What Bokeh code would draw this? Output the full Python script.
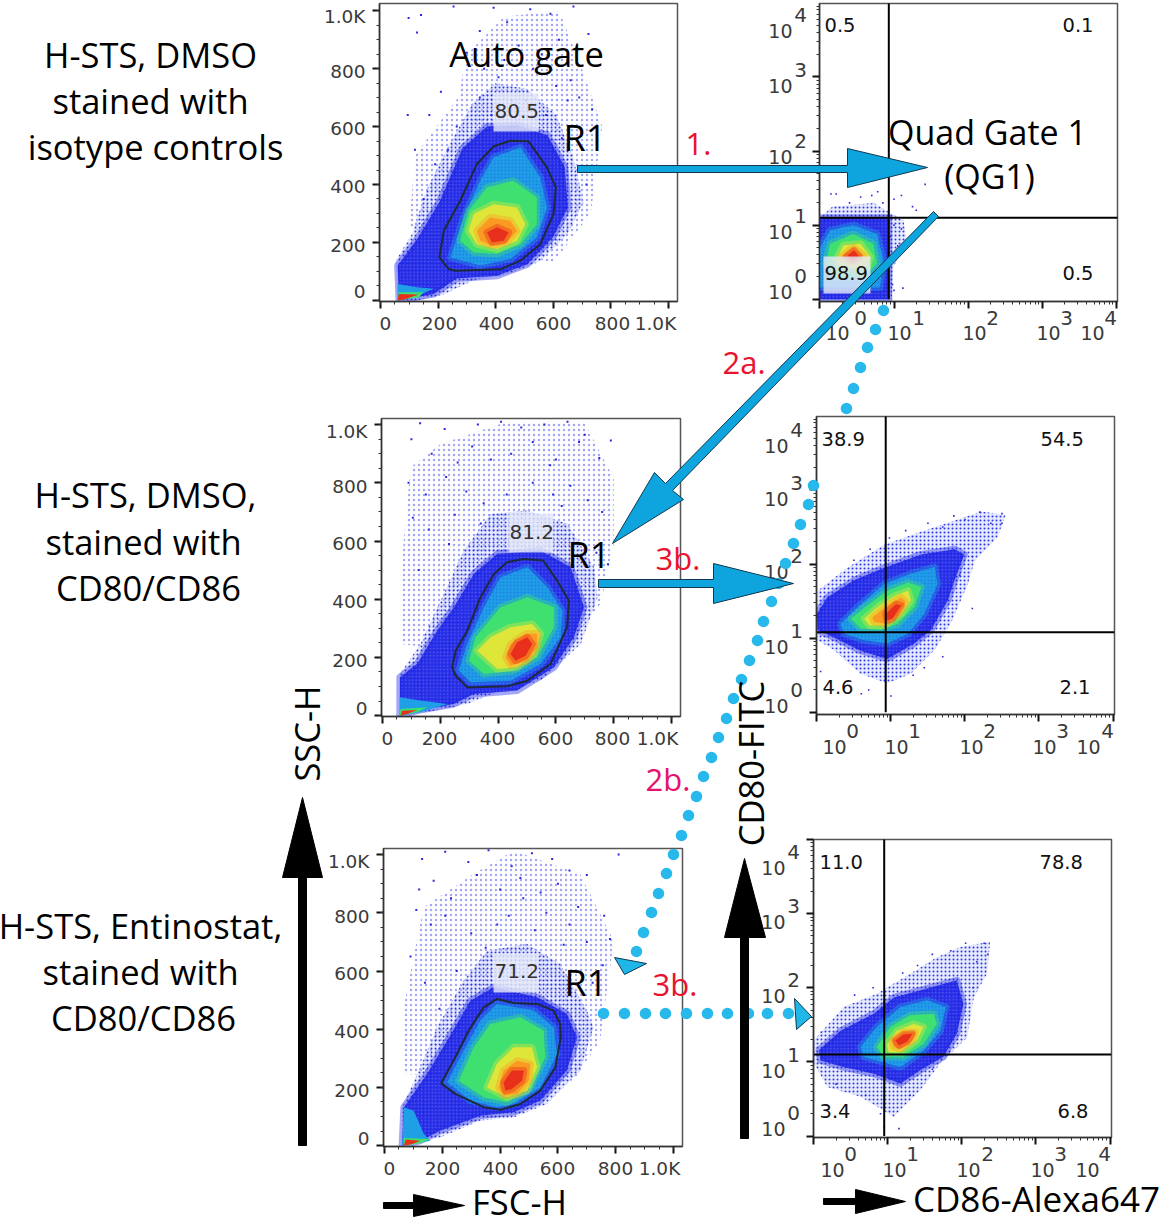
from math import pi
from bokeh.core.properties import value
from bokeh.embed import file_html
from bokeh.models import Column, FixedTicker, Range1d
from bokeh.plotting import figure
from bokeh.resources import INLINE

# ---------- level colours of the density plots (sparse -> dense) ----------
LEVEL_COLORS = ["#1c24e6", "#1f9fe6", "#3fe070", "#dfe63a", "#fb9a22", "#e8301c"]
LINEAR_TICKS = [0, 200, 400, 600, 800, 1000]
LINEAR_LABELS = ["0", "200", "400", "600", "800", "1.0K"]
DECADES = [0, 1, 2, 3, 4]

# ---------- FSC-H / SSC-H panels: value outlines ----------
A_gate = [(205,148),(237,108),(260,102),(416,107),(486,137),(555,194),(601,298),(609,390),(578,459),(514,549),(451,551),(393,532),(335,471),(277,344),(220,240)]
A_far = [(100,250),(120,500),(270,700),(300,850),(430,980),(620,1000),(700,800),(770,600),(730,300),(600,130)]
A_halo = [(60,0),(55,140),(110,230),(160,380),(240,540),(320,680),(400,750),(510,730),(610,640),(670,490),(705,340),(650,230),(555,135),(440,90),(325,70),(220,20),(130,0)]
A_levels = [
 [(65,0),(60,120),(130,215),(205,340),(285,525),(370,600),(475,605),(580,570),(640,460),(650,320),(600,220),(510,125),(405,85),(265,75),(185,22)],
 [(243,148),(289,287),(347,414),(393,494),(486,528),(555,424),(578,320),(543,217),(451,143),(347,120)],
 [(277,206),(306,309),(370,390),(462,413),(543,355),(543,263),(486,194),(405,160),(324,165)],
 [(306,240),(324,298),(393,332),(474,321),(503,263),(474,206),(405,177),(335,194)],
 [(335,240),(381,286),(451,275),(474,240),(439,200),(387,189),(347,206)],
 [(370,235),(405,252),(445,235),(428,206),(387,200)],
]
A_low = [[(60,0),(60,56),(127,45),(185,40),(115,10)],[(60,0),(64,28),(150,28),(133,10)],[(60,0),(64,22),(133,20),(80,2)]]
A_spx = [254,393,670,98,141,127,722,440,590,520,300,360,480,560,620,660,690,210,170,95,120,345,410,530,610,650,735,700,455,385,265,235,190,150,575,505,345,430,630,715]
A_spy = [1015,1010,1015,975,985,925,920,960,990,1005,855,800,880,850,900,760,700,720,640,640,520,930,770,800,740,690,660,520,690,640,600,520,470,350,640,690,700,830,560,400]

B_gate = [(241,166),(253,137),(293,97),(431,101),(501,120),(581,178),(639,304),(645,395),(604,464),(556,533),(489,538),(431,527),(385,487),(339,407),(293,292),(253,223)]
B_far = [(62,246),(62,475),(97,853),(201,933),(431,1010),(697,1010),(800,816),(800,590),(755,385),(600,180)]
B_halo = [(60,0),(60,143),(131,246),(201,395),(281,567),(374,693),(501,705),(640,659),(732,510),(744,407),(686,246),(547,120),(408,86),(293,40),(178,17)]
B_levels = [
 [(60,0),(60,132),(120,178),(189,292),(247,372),(316,487),(397,556),(547,567),(651,510),(697,372),(662,269),(593,166),(466,86),(316,74),(247,40),(120,17)],
 [(264,155),(293,246),(351,372),(408,475),(501,510),(570,441),(622,361),(616,269),(547,178),(443,120),(305,115)],
 [(299,189),(322,269),(408,372),(501,407),(593,372),(593,304),(535,200),(454,155),(351,143)],
 [(328,223),(374,269),(443,304),(518,315),(547,281),(524,212),(466,166),(397,160)],
 [(426,200),(443,246),(495,281),(535,281),(535,235),(501,189),(443,172)],
 [(443,212),(466,252),(501,269),(518,246),(495,206),(460,189)],
]
B_low = [[(60,0),(60,63),(131,52),(224,40),(131,12)],[(60,0),(62,23),(155,29),(120,12)],[(62,0),(68,17),(120,19),(85,6)]]
B_spx = [130,215,330,410,480,560,640,700,790,100,170,260,310,375,445,520,600,680,750,90,150,220,290,350,520,590,650,710,760,105,160,230,620,780,740,580,430,340,250,125]
B_spy = [1005,985,1000,1010,990,1000,1010,965,945,950,900,870,925,880,900,940,880,940,885,800,760,820,770,730,800,760,790,740,700,680,640,590,720,520,560,860,760,660,690,500]

C_gate = [(196,214),(245,178),(343,132),(401,123),(470,143),(539,189),(591,269),(610,372),(608,418),(585,464),(528,487),(447,490),(389,504),(343,475),(291,395),(251,315)]
C_far = [(66,246),(66,475),(135,819),(309,934),(447,1013),(677,933),(793,704),(746,361),(654,223)]
C_halo = [(61,0),(61,132),(124,269),(182,407),(274,567),(355,670),(493,693),(608,624),(700,464),(723,407),(677,258),(562,143),(447,97),(332,86),(194,29)]
C_levels = [
 [(61,0),(67,132),(147,246),(217,361),(297,498),(378,544),(528,510),(631,452),(666,372),(631,258),(539,155),(447,115),(332,103),(194,52),(124,17)],
 [(217,218),(274,326),(332,430),(389,487),(516,464),(585,407),(597,315),(539,200),(447,143),(389,132),(297,155)],
 [(257,223),(309,338),(366,418),(470,441),(551,395),(556,304),(505,200),(424,149),(343,166)],
 [(355,200),(389,281),(447,338),(510,338),(528,269),(493,189),(424,166)],
 [(395,200),(412,258),(459,292),(505,281),(499,223),(459,178),(412,172)],
 [(412,218),(441,258),(482,258),(476,223),(441,195),(418,189)],
]
C_low = [[(61,0),(67,132),(101,120),(136,40),(159,17)],[(67,0),(67,26),(159,23),(124,8)],[(67,0),(73,21),(124,17),(96,6)]]
C_spx = [130,210,290,360,440,510,580,640,700,810,120,170,230,320,400,470,540,600,670,760,110,160,210,300,390,560,640,700,755,780,90,140,190,250,350,480,620,720,430,520]
C_spy = [985,1010,975,1015,960,1005,985,945,930,1000,880,910,850,930,880,920,870,900,820,790,810,760,790,730,760,800,760,700,620,710,650,560,470,600,680,850,690,560,790,740]

# ---------- CD86 / CD80 panels: outlines in decades (log10 of the value) ----------
D_halo = [(0,0),(0,1.1),(.17,1.25),(.73,1.3),(1.13,1.06),(1.17,.79),(.99,.43),(.97,0)]
D_levels = [
 [(0,0),(0,1.1),(.93,1.1),(.93,0)],
 [(0,.16),(0,.70),(.14,.93),(.45,1.0),(.77,.88),(.86,.52),(.81,.16)],
 [(.08,.48),(.14,.75),(.45,.88),(.72,.75),(.77,.48),(.6,.3),(.2,.3)],
 [(.21,.52),(.32,.73),(.55,.75),(.68,.57),(.64,.44),(.3,.42)],
 [(.28,.57),(.45,.70),(.59,.59),(.45,.5)],
 [(.36,.58),(.46,.66),(.53,.58),(.44,.53)],
]
D_spx = [.15,.22,.4,.55,.7,.78,.85,1.0,1.1,1.25,1.42,1.0,.95,1.05,1.1,1.2,1.3,.98,1.0,1.12]
D_spy = [1.42,1.42,1.3,1.38,1.4,1.45,1.3,1.35,1.4,1.25,1.55,1.0,.85,.72,.95,1.1,1.2,.2,.12,.15]

E_halo = [(0,1.37),(.01,1.64),(.41,1.95),(.91,2.26),(1.41,2.44),(1.81,2.57),(2.22,2.71),(2.55,2.66),(2.44,2.36),(2.13,2.04),(2.04,1.73),(1.81,1.2),(1.59,.84),(1.27,.52),(.95,.39),(.59,.52),(.23,.84),(.01,.97)]
E_levels = [
 [(0,1.33),(.14,1.55),(.5,1.78),(.91,1.95),(1.41,2.13),(1.86,2.2),(1.99,2.13),(1.86,1.78),(1.77,1.51),(1.54,1.11),(1.32,.93),(.95,.72),(.59,.83),(.23,1.01),(.01,1.11)],
 [(.32,1.19),(.55,1.42),(.91,1.73),(1.27,1.87),(1.59,1.96),(1.63,1.73),(1.45,1.33),(1.23,1.06),(.95,.93),(.64,.97),(.37,1.06)],
 [(.46,1.26),(.68,1.44),(.95,1.64),(1.23,1.75),(1.41,1.69),(1.32,1.42),(1.09,1.19),(.86,1.11),(.59,1.13)],
 [(.64,1.26),(.82,1.42),(1.05,1.57),(1.23,1.64),(1.27,1.51),(1.14,1.33),(.91,1.17),(.71,1.17)],
 [(.75,1.28),(.95,1.44),(1.14,1.55),(1.2,1.49),(1.09,1.31),(.93,1.19),(.77,1.22)],
 [(.93,1.33),(1.07,1.46),(1.14,1.44),(1.02,1.26),(.95,1.24)],
]
E_spx = [.05,.27,.5,.72,.98,1.2,1.5,1.7,1.85,2.0,2.2,2.35,2.5,2.5,2.1,1.93,2.1,1.7,1.45,1.3,.7,.6,1.0]
E_spy = [.55,1.2,2.05,2.2,2.35,2.45,2.55,2.5,2.65,2.6,2.7,2.55,2.68,2.55,2.1,1.85,1.4,.75,.6,.5,.3,.25,.22]

F_halo = [(0,1.29),(.4,1.74),(.85,1.92),(1.3,2.19),(1.66,2.41),(1.98,2.55),(2.38,2.62),(2.34,2.19),(2.16,1.87),(2.07,1.33),(1.71,.98),(1.44,.62),(1.08,.26),(.63,.53),(.18,.66),(0,.98)]
F_levels = [
 [(.07,1.16),(.36,1.42),(.81,1.65),(1.08,1.87),(1.53,1.99),(1.93,2.1),(2.02,1.78),(1.93,1.38),(1.75,1.07),(1.44,.89),(1.17,.71),(.81,.84),(.4,.93),(.09,1.02)],
 [(.63,1.2),(.85,1.47),(1.17,1.74),(1.53,1.83),(1.78,1.74),(1.71,1.42),(1.48,1.15),(1.17,.93),(.85,1.02),(.67,1.07)],
 [(.85,1.2),(1.03,1.47),(1.3,1.63),(1.62,1.65),(1.66,1.51),(1.48,1.24),(1.21,1.07),(.94,1.07)],
 [(.99,1.24),(1.12,1.42),(1.35,1.51),(1.48,1.47),(1.39,1.29),(1.17,1.13),(1.01,1.13)],
 [(1.06,1.29),(1.21,1.4),(1.37,1.4),(1.33,1.29),(1.17,1.18),(1.08,1.2)],
 [(1.1,1.29),(1.21,1.37),(1.33,1.38),(1.26,1.27),(1.15,1.22)],
]
F_spx = [.1,.3,.55,.8,1.2,1.4,1.6,1.85,2.05,2.3,2.35,2.2,2.15,1.9,1.6,1.3,.95,.9,.7,1.15]
F_spy = [1.4,.7,1.9,2.0,2.2,2.3,2.45,2.5,2.6,2.6,2.45,2.35,2.0,1.6,.9,.55,.12,.3,.55,.1]


def dec(points):
    return [10 ** a for a, _ in points], [10 ** b for _, b in points]


def lin(points):
    return [a for a, _ in points], [b for _, b in points]


# ---------- panels with their own scales and axes ----------
panels = []
BL, BB, BT, BR = 30, 24, 6, 6


def make_panel(box, xr, yr, log):
    left, top, right, bottom = box
    kw = dict(x_axis_type="log", y_axis_type="log") if log else {}
    p = figure(width=right - left + BL + BR, height=bottom - top + BT + BB,
               x_range=Range1d(*xr), y_range=Range1d(*yr),
               min_border_left=BL, min_border_right=BR, min_border_top=BT, min_border_bottom=BB,
               toolbar_location=None, output_backend="svg",
               background_fill_color="white", border_fill_color=None,
               outline_line_color="#555555", outline_line_width=1.5,
               styles={"position": "absolute", "left": f"{left - BL}px", "top": f"{top - BT}px"}, **kw)
    p.grid.visible = False
    if log:
        major = [10 ** d for d in DECADES]
        minor = [m * 10 ** d for d in DECADES[:-1] for m in (2, 3, 4, 5, 6, 7, 8, 9)]
    else:
        major = LINEAR_TICKS
        minor = list(range(0, 1001, 50))
    for ax in (p.xaxis[0], p.yaxis[0]):
        ax.ticker = FixedTicker(ticks=major, minor_ticks=minor)
        ax.major_label_overrides = {t: "" for t in major}
        ax.major_tick_out = 7
        ax.major_tick_in = 0
        ax.minor_tick_out = 3
        ax.minor_tick_in = 0
        ax.major_tick_line_width = 2
        ax.major_tick_line_color = "#111111"
        ax.minor_tick_line_color = "#333333"
        ax.axis_line_color = "#333333"
        ax.axis_line_width = 1.5
    panels.append(p)
    return p


def draw_cloud(p, conv, far, halo, levels, low, spx, spy, size):
    if far:
        fx, fy = conv(far)
        p.patch(fx, fy, fill_color=None, line_color=None, hatch_pattern="dot",
                hatch_color="#1c24e6", hatch_scale=5, hatch_weight=1, hatch_alpha=0.4)
    hx, hy = conv(halo)
    p.patch(hx, hy, fill_color="#aab6fb", fill_alpha=0.3, line_color=None)
    p.patch(hx, hy, fill_color=None, line_color=None, hatch_pattern="dot",
            hatch_color="#1c24e6", hatch_scale=4, hatch_weight=1, hatch_alpha=0.9)
    for i, (pts, col) in enumerate(zip(levels, LEVEL_COLORS)):
        x, y = conv(pts)
        p.patch(x, y, fill_color=col, fill_alpha=0.95 if i == 0 else 1.0,
                line_color=col, line_alpha=0.4, line_width=7, line_join="round")
        if i == 0:
            p.patch(x, y, fill_color=None, line_color=None, hatch_pattern="dot",
                    hatch_color="white", hatch_scale=3.5, hatch_weight=1, hatch_alpha=0.22)
        if i == 1:
            p.patch(x, y, fill_color=None, line_color=None, hatch_pattern="dot",
                    hatch_color="#1c24e6", hatch_scale=3.5, hatch_weight=1, hatch_alpha=0.35)
    for pts, col in zip(low, ["#1f9fe6", "#3fe070", "#e8301c"]):
        x, y = conv(pts)
        p.patch(x, y, fill_color=col, line_color=None)
    p.scatter(spx, spy, size=size, marker="square", color="#2a2ae0", line_color=None)


pa = make_panel((379, 3, 677, 301), (-3, 1031), (-4, 1025), False)
pb = make_panel((381, 418, 680, 716), (-3.5, 1031), (-3, 1021), False)
pc = make_panel((383, 848, 682, 1146), (-3.5, 1031), (-3, 1021), False)
for p, gate, far, halo, lv, low, sx, sy in ((pa, A_gate, A_far, A_halo, A_levels, A_low, A_spx, A_spy),
                                            (pb, B_gate, B_far, B_halo, B_levels, B_low, B_spx, B_spy),
                                            (pc, C_gate, C_far, C_halo, C_levels, C_low, C_spx, C_spy)):
    draw_cloud(p, lin, far, halo, lv, low, sx, sy, 2)
    gx, gy = lin(gate)
    p.patch(gx, gy, fill_color=None, line_color="#1c2b3a", line_width=2)

pd = make_panel((819, 3, 1117, 301), (10 ** -0.005, 10 ** 4.015), (10 ** -0.03, 10 ** 3.99), True)
pe = make_panel((816, 416, 1114, 714), (10 ** -0.005, 10 ** 4.02), (10 ** -0.03, 10 ** 3.99), True)
pf = make_panel((813, 839, 1111, 1137), (10 ** -0.005, 10 ** 4.02), (10 ** -0.02, 10 ** 4.0), True)
QUAD = {"d": (10 ** 0.93, 10 ** 1.1), "e": (10 ** 0.93, 10 ** 1.08), "f": (10 ** 0.95, 10 ** 1.1)}
for p, key, halo, lv, sx, sy in ((pd, "d", D_halo, D_levels, D_spx, D_spy),
                                 (pe, "e", E_halo, E_levels, E_spx, E_spy),
                                 (pf, "f", F_halo, F_levels, F_spx, F_spy)):
    draw_cloud(p, dec, None, halo, lv, [], [10 ** v for v in sx], [10 ** v for v in sy], 1.6)
    qx, qy = QUAD[key]
    p.segment([qx, 1], [1, qy], [qx, 10 ** 4.02], [10 ** 4.02, qy], line_color="black", line_width=2)

# ---------- page-wide annotation layer ----------
ov = figure(width=1160, height=1219, x_range=Range1d(0, 1160), y_range=Range1d(1219, 0),
            min_border=0, toolbar_location=None, output_backend="svg", x_axis_type=None, y_axis_type=None,
            background_fill_color=None, border_fill_color=None, outline_line_color=None)
ov.grid.visible = False

HEAD = "Open Sans"
TICK = "DejaVu Sans"
TICK_COLOR = "#3a3a3a"


def txt(x, y, s, size, color="black", font=HEAD, align="left", angle=0.0, line_height=1.2):
    # the text glyph centres on its anchor: bring the baseline back to the reading
    if angle:
        x = x - 0.36 * size
    else:
        y = y - 0.36 * size
    ov.text([x], [y], text=[s], text_font=value(font), text_font_size=f"{size}px", text_color=color,
            text_align=align, text_baseline="alphabetic", angle=angle, text_line_height=line_height)


def poly(pts, fill, line="#12394e", w=1.0):
    ov.patch([a for a, _ in pts], [b for _, b in pts], fill_color=fill, line_color=line, line_width=w)


# pale backgrounds behind the gate percentages
for x0, y0, x1, y1 in ((493, 93, 538, 131), (508, 513, 553, 552), (493, 953, 538, 992), (823, 256, 870, 293)):
    ov.quad(left=[x0], right=[x1], top=[y0], bottom=[y1], fill_color="#e4e8f8", fill_alpha=0.82, line_color=None)

# tick labels
for labels_x, base, labels_y, right in (
    ((385, 439, 496, 553, 612, 655), 330, (298, 252, 193, 135, 78, 23), 365),
    ((387, 439, 497, 555, 612, 657), 745, (715, 667, 608, 550, 493, 438), 367),
    ((389, 442, 500, 557, 615, 659), 1175, (1145, 1097, 1038, 980, 923, 868), 369),
):
    for s, cx, by in zip(LINEAR_LABELS, labels_x, labels_y):
        txt(cx, base, s, 18.5, TICK_COLOR, TICK, "center")
        txt(right, by, s, 18.5, TICK_COLOR, TICK, "right")

for xc, xe, xb, xeb, yb, yr_, ye in (
    ((837, 899, 974, 1048, 1092), (860, 918, 992, 1066, 1110), 339, 325, (298, 238, 163, 92, 37), 792, 800),
    ((834, 896, 971, 1044, 1088), (852, 914, 989, 1062, 1107), 753, 738, (712, 653, 578, 505, 452), 788, 796),
    ((832, 894, 968, 1042, 1087), (850, 912, 987, 1060, 1104), 1176, 1161, (1135, 1077, 1002, 928, 874), 785, 793),
):
    for d, cx, ex, by in zip(DECADES, xc, xe, yb):
        txt(cx, xb, "10", 19, TICK_COLOR, TICK, "center")
        txt(ex, xeb, str(d), 20, TICK_COLOR, TICK, "center")
        txt(yr_, by, "10", 19, TICK_COLOR, TICK, "right")
        txt(ye, by - 15, str(d), 20, TICK_COLOR, TICK, "center")

# percentages
for x, y, s in ((494, 118, "80.5"), (509, 539, "81.2"), (494, 978, "71.2")):
    txt(x, y, s, 20, "#333333", TICK)
for x, y, s in ((824, 32, "0.5"), (1062, 32, "0.1"), (824, 280, "98.9"), (1062, 280, "0.5"),
                (821, 446, "38.9"), (1040, 446, "54.5"), (822, 694, "4.6"), (1059, 694, "2.1"),
                (819, 869, "11.0"), (1039, 869, "78.8"), (819, 1118, "3.4"), (1057, 1118, "6.8")):
    txt(x, y, s, 19.5, "#111111", TICK)

# blue dots
DOT = "#27b8ec"
dots_x = [883, 875, 867, 860, 853, 846, 813, 808, 800, 793, 785, 778, 771, 763, 757, 749, 741, 733, 726, 718, 711, 703, 696, 688, 681, 673, 666, 658, 651, 643, 636,
          603, 624, 645, 665, 686, 707, 727, 748, 767, 788]
dots_y = [310, 329, 347, 367, 388, 408, 485, 504, 524, 543, 563, 583, 601, 621, 640, 660, 679, 698, 718, 737, 757, 776, 796, 815, 835, 854, 873, 893, 912, 932, 951,
          1013, 1013, 1013, 1013, 1013, 1013, 1013, 1013, 1013, 1013]
ov.scatter(dots_x, dots_y, size=11.5, color=DOT, line_color=None)
poly([(614, 957), (646, 963), (624, 974)], "#1fb6e8")
poly([(794, 998), (811, 1016), (796, 1029)], "#1fb6e8")

# arrows
ARROW = "#0ea5df"
poly([(577, 165), (847, 165), (847, 148), (927, 167), (847, 187), (847, 172), (577, 172)], ARROW)
poly([(933, 211), (938, 216), (672, 490), (683, 499), (612, 543), (654, 472), (665, 483)], ARROW)
poly([(598, 579), (713, 579), (713, 563), (793, 583), (713, 603), (713, 587), (598, 587)], ARROW)
poly([(383, 1202), (413, 1202), (413, 1194), (464, 1205), (413, 1216), (413, 1208), (383, 1208)], "black", "black")
poly([(823, 1198), (855, 1198), (855, 1189), (905, 1201), (855, 1213), (855, 1204), (823, 1204)], "black", "black")
poly([(298, 1145), (298, 877), (282, 877), (302, 797), (322, 877), (306, 877), (306, 1145)], "black", "black")
poly([(740, 1138), (740, 937), (724, 937), (744, 858), (765, 937), (748, 937), (748, 1138)], "black", "black")

# large labels
for cx, by, s in ((150, 66, "H-STS, DMSO"), (150, 112, "stained with"), (155, 158, "isotype controls"),
                  (145, 506, "H-STS, DMSO,"), (143, 553, "stained with"), (148, 599, "CD80/CD86"),
                  (140, 937, "H-STS, Entinostat,"), (140, 983, "stained with"), (143, 1029, "CD80/CD86")):
    txt(cx, by, s, 34.5, align="center")
txt(526, 65, "Auto gate", 34.5, align="center")
for x, y in ((563, 150), (567, 567), (564, 995)):
    txt(x, y, "R1", 36)
txt(987, 144, "Quad Gate 1", 34, align="center")
txt(989, 188, "(QG1)", 34, align="center")
txt(519, 1213, "FSC-H", 34.5, align="center", line_height=0.8)
txt(1036, 1211, "CD86-Alexa647", 35, align="center", line_height=0.8)
txt(318, 733, "SSC-H", 34.5, align="center", angle=pi / 2)
txt(762, 763, "CD80-FITC", 34.5, align="center", angle=pi / 2)
RED = "#e8132f"
PINK = "#e6106e"
txt(685, 155, "1.", 31, RED)
txt(722, 373, "2a.", 31, RED)
txt(655, 569, "3b.", 31, RED)
txt(645, 790, "2b.", 31, PINK)
txt(652, 995, "3b.", 31, RED)

overlay = Column(children=[ov], width=1160, height=1219,
                 styles={"position": "absolute", "left": "0px", "top": "0px"})
root = Column(children=panels + [overlay], width=1160, height=1219,
              styles={"position": "absolute", "left": "0px", "top": "0px"})
open("out.html", "w").write(file_html(root, INLINE))
